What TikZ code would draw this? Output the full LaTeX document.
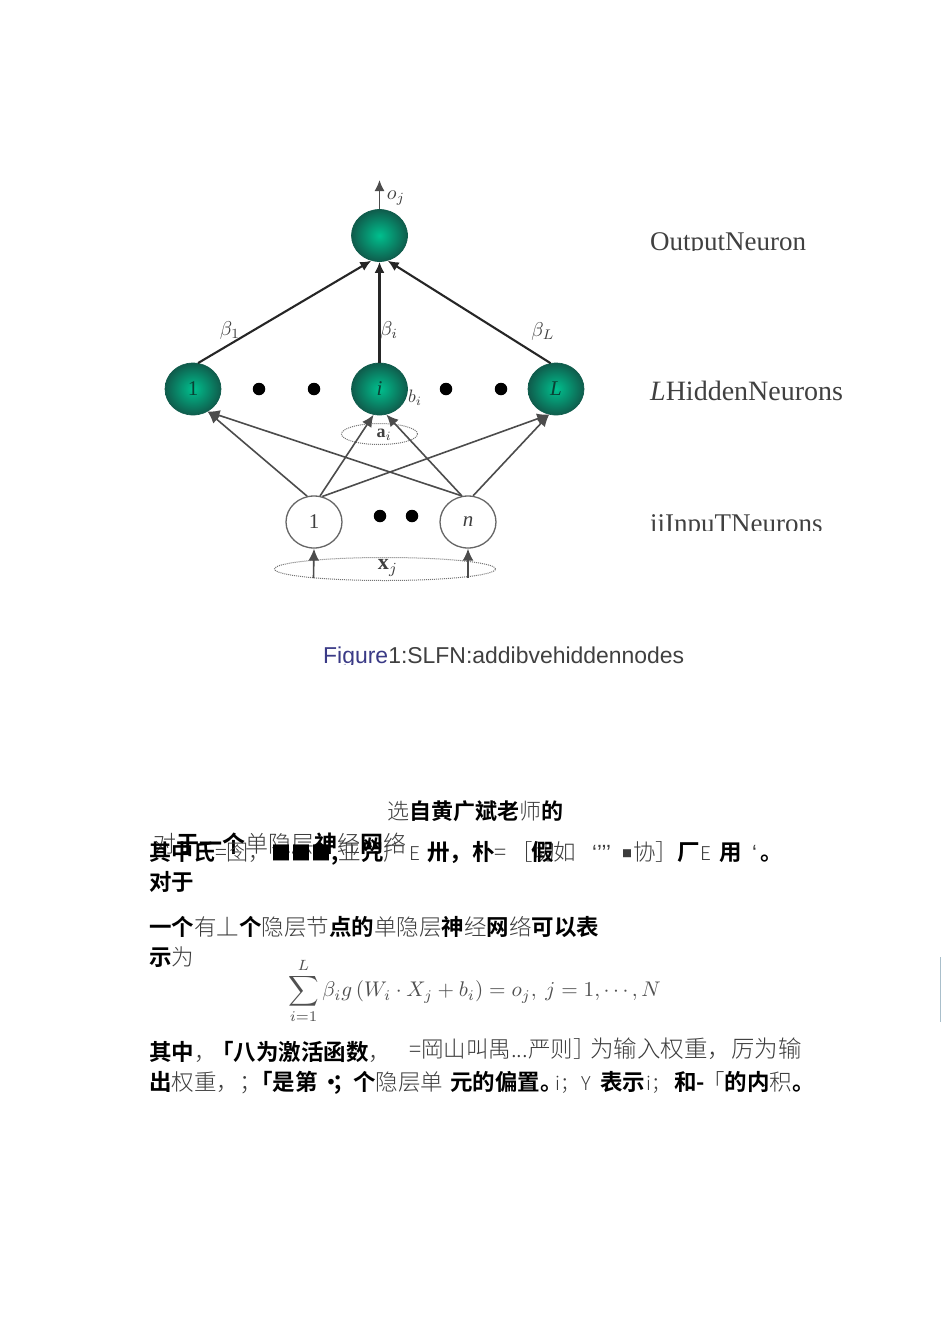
\documentclass[tikz,border=0pt]{standalone}
\usepackage{graphicx}
\usepackage{fontspec}
\setmainfont{Liberation Serif}
\setsansfont{Liberation Sans}
\newfontfamily\cjkreg{Noto Sans CJK SC Light}
\newfontfamily\cjkbold{Noto Sans CJK SC Bold}
\usetikzlibrary{arrows.meta,shapes.geometric}
\definecolor{sphereedge}{HTML}{0F5C4C}
\definecolor{spheremid}{HTML}{00C08E}
\definecolor{captionblue}{HTML}{3A3A86}
\definecolor{labelgray}{HTML}{404040}
\definecolor{regtext}{HTML}{3C3C3C}
\definecolor{formulagray}{HTML}{505050}
\definecolor{edgebar}{HTML}{A9BFCB}
\newcommand{\Bd}[1]{{\cjkbold\color{black}#1}}
\newcommand{\Rg}[1]{{\cjkreg\color{regtext}#1}}
\tikzset{
  x=1pt,y=-1pt,
  spheregreen/.style={ellipse,minimum width=56pt,minimum height=52pt,inner sep=0pt,draw=sphereedge,line width=.7pt,
    inner color=spheremid,outer color=sphereedge,font=\fontsize{21}{21}\selectfont,text=sphereedge!70!black},
  inputn/.style={ellipse,minimum width=56pt,minimum height=52pt,inner sep=0pt,draw=black!60,line width=1.3pt,fill=white,font=\fontsize{21}{21}\selectfont,text=black!75},
  dotn/.style={circle,minimum size=12.5pt,inner sep=0pt,fill=black},
  heavy/.style={draw=black!85,line width=2.1pt,-{Latex[length=11pt,width=10pt]}},
  light/.style={draw=black!70,line width=1.6pt,-{Latex[length=12pt,width=11pt]}},
  dotell/.style={ellipse,draw=black!55,line width=1pt,densely dotted,inner sep=0pt},
  frag/.style={anchor=base west,inner sep=0pt,font=\fontsize{22.5}{23}\selectfont},
  side/.style={anchor=base west,inner sep=0pt,font=\fontsize{27}{27}\selectfont,text=labelgray},
  mathl/.style={inner sep=0pt,text=black!75}
}
\begin{document}
\begin{tikzpicture}
\useasboundingbox (0,0) rectangle (950,1318);
\fill[white] (0,0) rectangle (950,1318);
% nodes
\node[spheregreen] (o) at (379.5,235.5) {};
\node[spheregreen] (h1) at (193,389) {1};
\node[spheregreen] (hi) at (379.5,389) {\itshape i};
\node[spheregreen] (hL) at (556,389) {\itshape L};
\node[dotn] (d1) at (259,389) {};
\node[dotn] (d2) at (314,389) {};
\node[dotn] (d3) at (446,389) {};
\node[dotn] (d4) at (501,389) {};
\node[inputn] (i1) at (314,522) {1};
\node[inputn] (in) at (468,522) {\itshape n};
\node[dotn] (d5) at (380,516) {};
\node[dotn] (d6) at (412,516) {};
\node[dotell,minimum width=76pt,minimum height=21pt] (ea) at (379.5,434) {};
\node[dotell,minimum width=221pt,minimum height=23pt] (ex) at (385,569) {};
\coordinate (top) at (379.5,180);
\coordinate (x1) at (313.5,578);
\coordinate (xn) at (468,578);
\coordinate (barA) at (940.5,957);
\coordinate (barB) at (940.5,1022);
% connectors
\draw[draw=black!70,line width=1.5pt,-{Latex[length=11pt,width=10pt]}] (o.north) -- (top);
\draw[heavy] (h1.79) -- (o.252);
\draw[heavy] (hi.north) -- (o.south);
\draw[heavy] (hL.102) -- (o.288);
\draw[light] (i1.105) -- (h1.-57);
\draw[light] (i1.77) -- (hi.-103);
\draw[light] (i1.72) -- (hL.-105);
\draw[light] (in.103) -- (h1.-57);
\draw[light] (in.103) -- (hi.-75);
\draw[light] (in.79) -- (hL.-105);
\draw[light] (x1) -- (i1.south);
\draw[light] (xn) -- (in.south);
\draw[edgebar,line width=1pt] (barA) -- (barB);
% math labels
\node[mathl] (lo) at (396,198) {\scalebox{2}{$o_j$}};
\node[mathl] (lb1) at (230,330) {\scalebox{2}{$\beta_1$}};
\node[mathl] (lbi) at (389,330) {\scalebox{2}{$\beta_i$}};
\node[mathl] (lbL) at (543,331) {\scalebox{2}{$\beta_L$}};
\node[mathl] (lbb) at (415,398) {\scalebox{1.8}{$b_i$}};
\node[mathl] (laa) at (384,435) {\scalebox{1.8}{$\mathbf{a}_i$}};
\node[mathl] (lxx) at (388,568) {\scalebox{2.2}{$\mathbf{x}_j$}};
% right labels (clipped at the bottom as printed)
\begin{scope}
\clip (640,220) rectangle (870,250.5);
\node[side] (t1) at (650,250) {OutputNeuron};
\end{scope}
\begin{scope}
\clip (640,370) rectangle (870,400.5);
\node[side,font=\fontsize{28}{28}\selectfont] (t2) at (650,400) {\textit{L}HiddenNeurons};
\end{scope}
\begin{scope}
\clip (640,500) rectangle (870,530);
\node[side] (t3) at (650,532) {iiInpuTNeurons};
\end{scope}
\begin{scope}
\clip (310,640) rectangle (700,664);
\node[anchor=base west,inner sep=0pt,font=\sffamily\fontsize{22.95}{23}\selectfont,text=labelgray] (cap) at (323,663) {\textcolor{captionblue}{Figure}1:SLFN:addibvehiddennodes};
\end{scope}
% text fragments
\node[frag,font=\fontsize{22}{22}\selectfont] (a1) at (387,819) {\Rg{选}\Bd{自黄广斌老}\Rg{师}\Bd{的}};
% over-printed line
\node[frag,font=\fontsize{23}{23}\selectfont] (b1) at (153,852) {\Rg{对}\Bd{于一个}\Rg{单隐层}\Bd{神}\Rg{经}\Bd{网}\Rg{络}};
\node[frag,font=\fontsize{22}{22}\selectfont] (c1) at (149,860) {\Bd{其中氏}\Rg{=囹，}};
\node[frag,font=\fontsize{20}{20}\selectfont] (c2) at (271,860) {\Bd{■■■}};
\node[frag] (c3) at (331,860) {\Bd{,}\Rg{亚}\Bd{咒}\Rg{广}};
\node[frag,font=\sffamily\fontsize{19}{20}\selectfont] (c4) at (409,860) {\Rg{E}};
\node[frag] (c5) at (427,860) {\Bd{卅，朴}\Rg{=}};
\node[frag] (c6) at (510,860) {\Rg{［切}};
\node[frag] (c7) at (531,860) {\Bd{假}\Rg{如}};
\node[frag,font=\sffamily\fontsize{22}{22}\selectfont,text=regtext] (c8) at (592,860) {‘’’’};
\node[frag,font=\fontsize{10}{10}\selectfont] (c8b) at (622,857) {\Rg{■}};
\node[frag] (c8c) at (633,860) {\Rg{协］}};
\node[frag] (c9) at (677,860) {\Bd{厂}};
\node[frag,font=\sffamily\fontsize{19}{20}\selectfont] (c10) at (700,860) {\Rg{E}};
\node[frag] (c11) at (719,860) {\Bd{用}};
\node[frag,font=\sffamily\fontsize{22}{22}\selectfont,text=regtext] (c12a) at (752,860) {‘};
\node[frag] (c12) at (760,860) {\Bd{。}};
\node[frag] (d7) at (149,890) {\Bd{对于}};
\node[frag] (e1) at (149,935) {\Bd{一个}\Rg{有丄}\Bd{个}\Rg{隐层节}\Bd{点的}\Rg{单隐层}\Bd{神}\Rg{经}\Bd{网}\Rg{络}\Bd{可以表}};
\node[frag] (e2) at (149,965) {\Bd{示}\Rg{为}};
% formula
\node[anchor=center,inner sep=0pt,text=formulagray] (f) at (474.5,991) {\scalebox{2.12}{$\displaystyle\sum_{i=1}^{L}\beta_i g\left(W_i\cdot X_j+b_i\right)=o_j,\ j=1,\cdots,N$}};
% last paragraph
\node[frag] (g1) at (149,1060) {\Bd{其中}\Rg{，}};
\node[frag] (g2) at (211,1060) {\Bd{「八为激活函数}\Rg{，}};
\node[frag] (g3) at (409,1057) {\Rg{=岡山叫禺...严则］}};
\node[frag,font=\fontsize{23.5}{24}\selectfont] (g4) at (590,1057) {\Rg{为输入权重，厉为输}};
\node[frag] (k1) at (149,1090) {\Bd{出}\Rg{权重，；}};
\node[frag] (k2) at (250,1090) {\Bd{「是第}};
\node[frag,font=\sffamily\fontsize{22}{22}\selectfont] (k2a) at (320,1090) {\Bd{•}};
\node[frag] (k2b) at (332,1090) {\Bd{；}};
\node[frag] (k2c) at (353,1090) {\Bd{个}\Rg{隐层单}};
\node[frag] (k2d) at (450,1090) {\Bd{元的偏置。}};
\node[frag,font=\sffamily\fontsize{19}{20}\selectfont] (k3) at (555,1090) {\Rg{i；}};
\node[frag,font=\sffamily\fontsize{19}{20}\selectfont] (k4) at (581,1090) {\Rg{Y}};
\node[frag] (k5) at (600,1090) {\Bd{表示}};
\node[frag,font=\sffamily\fontsize{19}{20}\selectfont] (k6) at (646,1090) {\Rg{i；}};
\node[frag] (k7) at (674,1090) {\Bd{和-}};
\node[frag] (k8) at (702,1090) {\Rg{「}\Bd{的内}\Rg{积}\Bd{。}};
\end{tikzpicture}
\end{document}
